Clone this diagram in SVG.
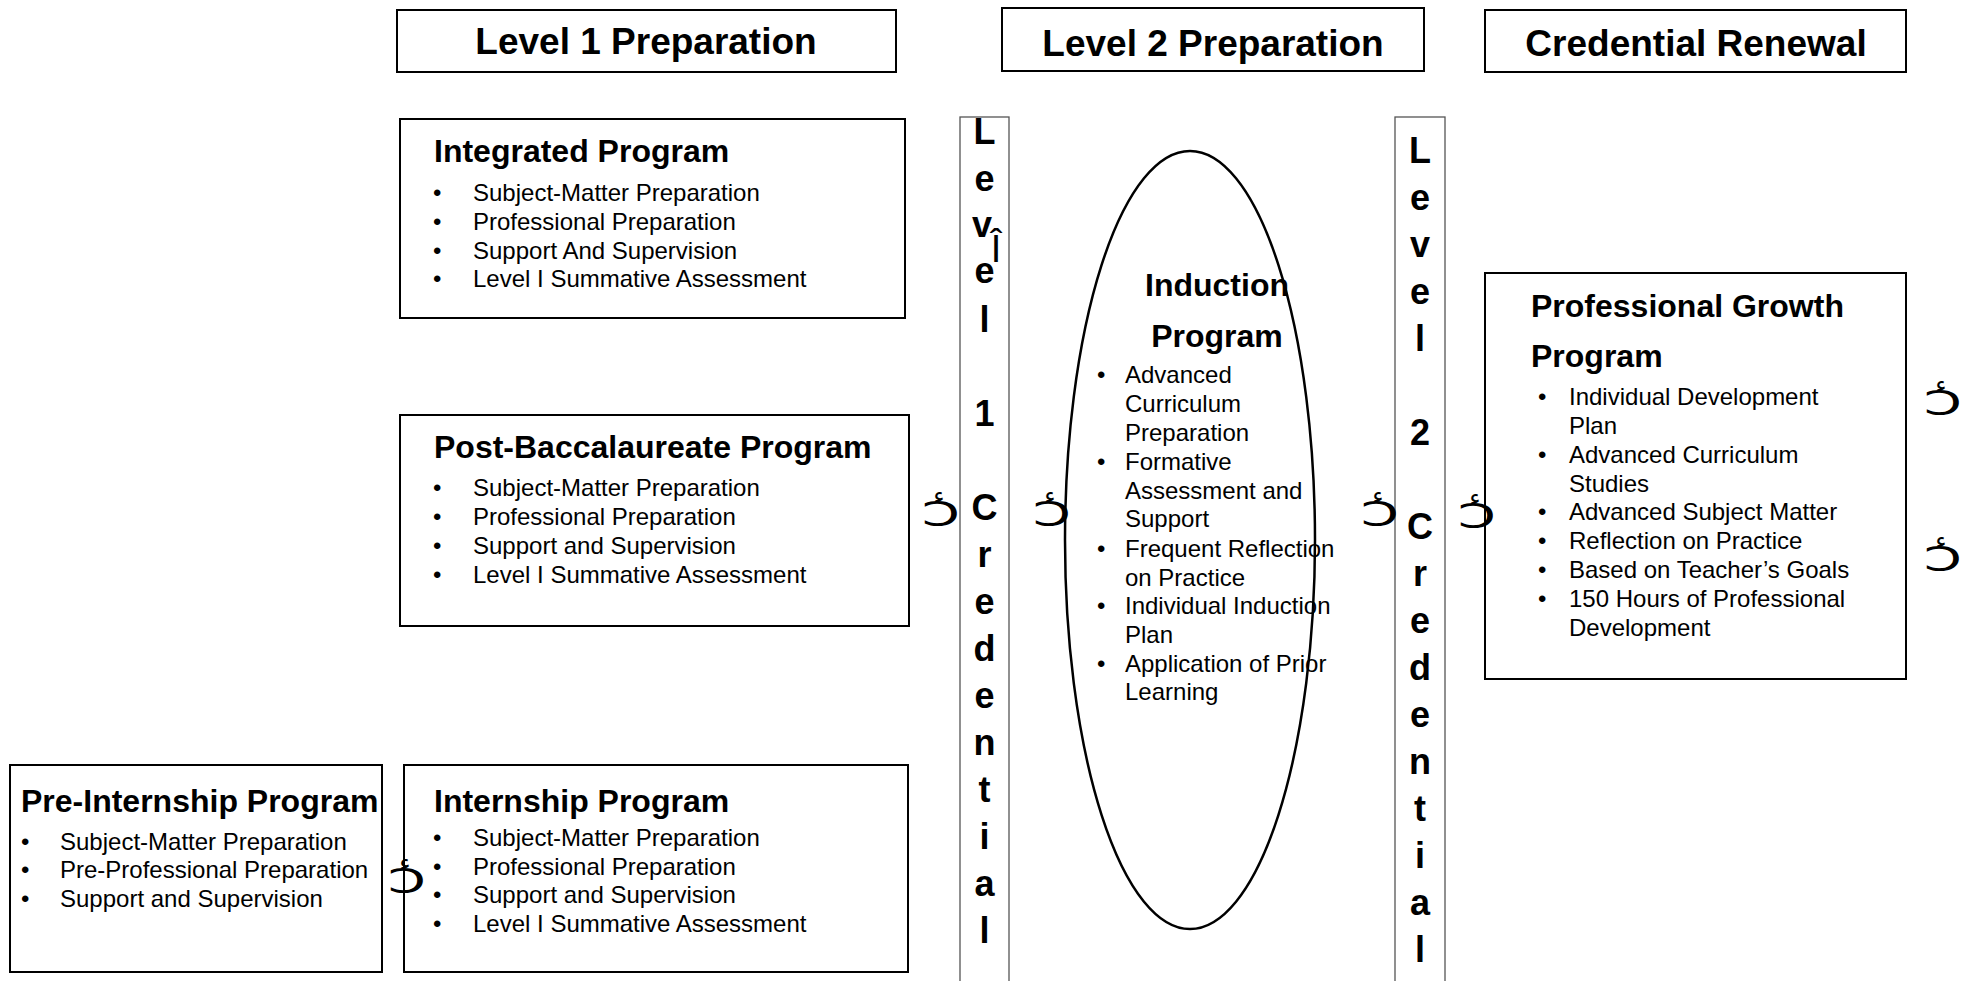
<svg xmlns="http://www.w3.org/2000/svg" width="1971" height="981" viewBox="0 0 1971 981">
<style>
.box{fill:#fff;stroke:#000;stroke-width:2}
.col{fill:#fff;stroke:#555;stroke-width:1.3}
.ell{fill:#fff;stroke:#000;stroke-width:2.5}
.hdr{font-family:'Liberation Sans',Arial,sans-serif;font-weight:bold;font-size:37px;text-anchor:middle;fill:#000}
.ttl{font-family:'Liberation Sans',Arial,sans-serif;font-weight:bold;font-size:32px;fill:#000}
.itm{font-family:'Liberation Sans',Arial,sans-serif;font-size:24px;fill:#000}
.vl{font-family:'Liberation Sans',Arial,sans-serif;font-weight:bold;font-size:36px;text-anchor:middle;fill:#000}
.arr{font-family:'DejaVu Sans',sans-serif;font-size:34px;text-anchor:middle;fill:#000}
.hz{font-family:'DejaVu Sans',sans-serif;font-size:24px;text-anchor:middle;fill:#000}
.odd{font-family:'Liberation Sans',Arial,sans-serif;font-size:38px;text-anchor:middle;fill:#000}
</style>
<defs>
<g id="arrowglyph">
<text class="arr" x="0" y="0" transform="scale(1.6,1)">Ↄ</text>
<text class="hz" x="-2" y="-22">ء</text>
</g>
</defs>
<rect width="1971" height="981" fill="#fff"/>

<g id="hdr-level1">
<rect class="box" x="397" y="10" width="499" height="62"/>
<text class="hdr" x="646" y="54">Level 1 Preparation</text>
</g>
<g id="hdr-level2">
<rect class="box" x="1002" y="8" width="422" height="63"/>
<text class="hdr" x="1213" y="56">Level 2 Preparation</text>
</g>
<g id="hdr-renewal">
<rect class="box" x="1485" y="10" width="421" height="62"/>
<text class="hdr" x="1696" y="56">Credential Renewal</text>
</g>

<g id="integrated">
<rect class="box" x="400" y="119" width="505" height="199"/>
<text class="ttl" x="434" y="162">Integrated Program</text>
<text class="itm"><tspan x="433" y="201">•</tspan><tspan x="473" y="201">Subject-Matter Preparation</tspan><tspan x="433" y="230">•</tspan><tspan x="473" y="230">Professional Preparation</tspan><tspan x="433" y="259">•</tspan><tspan x="473" y="259">Support And Supervision</tspan><tspan x="433" y="287">•</tspan><tspan x="473" y="287">Level I Summative Assessment</tspan></text>
</g>

<g id="postbacc">
<rect class="box" x="400" y="415" width="509" height="211"/>
<text class="ttl" x="434" y="458">Post-Baccalaureate Program</text>
<text class="itm"><tspan x="433" y="496">•</tspan><tspan x="473" y="496">Subject-Matter Preparation</tspan><tspan x="433" y="525">•</tspan><tspan x="473" y="525">Professional Preparation</tspan><tspan x="433" y="554">•</tspan><tspan x="473" y="554">Support and Supervision</tspan><tspan x="433" y="583">•</tspan><tspan x="473" y="583">Level I Summative Assessment</tspan></text>
</g>

<g id="internship">
<rect class="box" x="404" y="765" width="504" height="207"/>
<text class="ttl" x="434" y="812">Internship Program</text>
<text class="itm"><tspan x="433" y="846">•</tspan><tspan x="473" y="846">Subject-Matter Preparation</tspan><tspan x="433" y="875">•</tspan><tspan x="473" y="875">Professional Preparation</tspan><tspan x="433" y="903">•</tspan><tspan x="473" y="903">Support and Supervision</tspan><tspan x="433" y="932">•</tspan><tspan x="473" y="932">Level I Summative Assessment</tspan></text>
</g>

<g id="preinternship">
<rect class="box" x="10" y="765" width="372" height="207"/>
<text class="ttl" x="21" y="812">Pre-Internship Program</text>
<text class="itm"><tspan x="21" y="850">•</tspan><tspan x="60" y="850">Subject-Matter Preparation</tspan><tspan x="21" y="878">•</tspan><tspan x="60" y="878">Pre-Professional Preparation</tspan><tspan x="21" y="907">•</tspan><tspan x="60" y="907">Support and Supervision</tspan></text>
</g>

<g id="level1-credential">
<rect class="col" x="960" y="117" width="49" height="880"/>
<text class="vl"><tspan x="984.5" y="144">L</tspan><tspan x="984.5" y="191">e</tspan><tspan x="982" y="237">v</tspan><tspan x="984.5" y="283">e</tspan><tspan x="984.5" y="332">l</tspan><tspan x="984.5" y="426">1</tspan><tspan x="984.5" y="520">C</tspan><tspan x="984.5" y="567">r</tspan><tspan x="984.5" y="614">e</tspan><tspan x="984.5" y="661">d</tspan><tspan x="984.5" y="708">e</tspan><tspan x="984.5" y="755">n</tspan><tspan x="984.5" y="802">t</tspan><tspan x="984.5" y="849">i</tspan><tspan x="984.5" y="896">a</tspan><tspan x="984.5" y="943">l</tspan></text>
<text class="odd" x="996" y="262">Î</text>
</g>

<g id="induction">
<ellipse class="ell" cx="1190" cy="540" rx="125" ry="389"/>
<text class="ttl" text-anchor="middle"><tspan x="1217" y="296">Induction</tspan><tspan x="1217" y="347">Program</tspan></text>
<text class="itm"><tspan x="1097" y="383">•</tspan><tspan x="1125" y="383">Advanced</tspan><tspan x="1125" y="412">Curriculum</tspan><tspan x="1125" y="441">Preparation</tspan><tspan x="1097" y="470">•</tspan><tspan x="1125" y="470">Formative</tspan><tspan x="1125" y="499">Assessment and</tspan><tspan x="1125" y="527">Support</tspan><tspan x="1097" y="557">•</tspan><tspan x="1125" y="557">Frequent Reflection</tspan><tspan x="1125" y="586">on Practice</tspan><tspan x="1097" y="614">•</tspan><tspan x="1125" y="614">Individual Induction</tspan><tspan x="1125" y="643">Plan</tspan><tspan x="1097" y="672">•</tspan><tspan x="1125" y="672">Application of Prior</tspan><tspan x="1125" y="700">Learning</tspan></text>
</g>

<g id="level2-credential">
<rect class="col" x="1395" y="117" width="50" height="880"/>
<text class="vl"><tspan x="1420" y="163">L</tspan><tspan x="1420" y="210">e</tspan><tspan x="1420" y="257">v</tspan><tspan x="1420" y="304">e</tspan><tspan x="1420" y="351">l</tspan><tspan x="1420" y="445">2</tspan><tspan x="1420" y="539">C</tspan><tspan x="1420" y="586">r</tspan><tspan x="1420" y="633">e</tspan><tspan x="1420" y="680">d</tspan><tspan x="1420" y="727">e</tspan><tspan x="1420" y="774">n</tspan><tspan x="1420" y="821">t</tspan><tspan x="1420" y="868">i</tspan><tspan x="1420" y="915">a</tspan><tspan x="1420" y="962">l</tspan></text>
</g>

<g id="professional-growth">
<rect class="box" x="1485" y="273" width="421" height="406"/>
<text class="ttl"><tspan x="1531" y="317">Professional Growth</tspan><tspan x="1531" y="367">Program</tspan></text>
<text class="itm"><tspan x="1538" y="405">•</tspan><tspan x="1569" y="405">Individual Development</tspan><tspan x="1569" y="434">Plan</tspan><tspan x="1538" y="463">•</tspan><tspan x="1569" y="463">Advanced Curriculum</tspan><tspan x="1569" y="492">Studies</tspan><tspan x="1538" y="520">•</tspan><tspan x="1569" y="520">Advanced Subject Matter</tspan><tspan x="1538" y="549">•</tspan><tspan x="1569" y="549">Reflection on Practice</tspan><tspan x="1538" y="578">•</tspan><tspan x="1569" y="578">Based on Teacher’s Goals</tspan><tspan x="1538" y="607">•</tspan><tspan x="1569" y="607">150 Hours of Professional</tspan><tspan x="1569" y="636">Development</tspan></text>
</g>

<g id="connectors">
<use href="#arrowglyph" x="407" y="893"/>
<use href="#arrowglyph" x="941" y="526"/>
<use href="#arrowglyph" x="1052" y="526"/>
<use href="#arrowglyph" x="1380" y="526"/>
<use href="#arrowglyph" x="1477" y="528"/>
<use href="#arrowglyph" x="1943" y="415"/>
<use href="#arrowglyph" x="1943" y="571"/>
</g>
</svg>
